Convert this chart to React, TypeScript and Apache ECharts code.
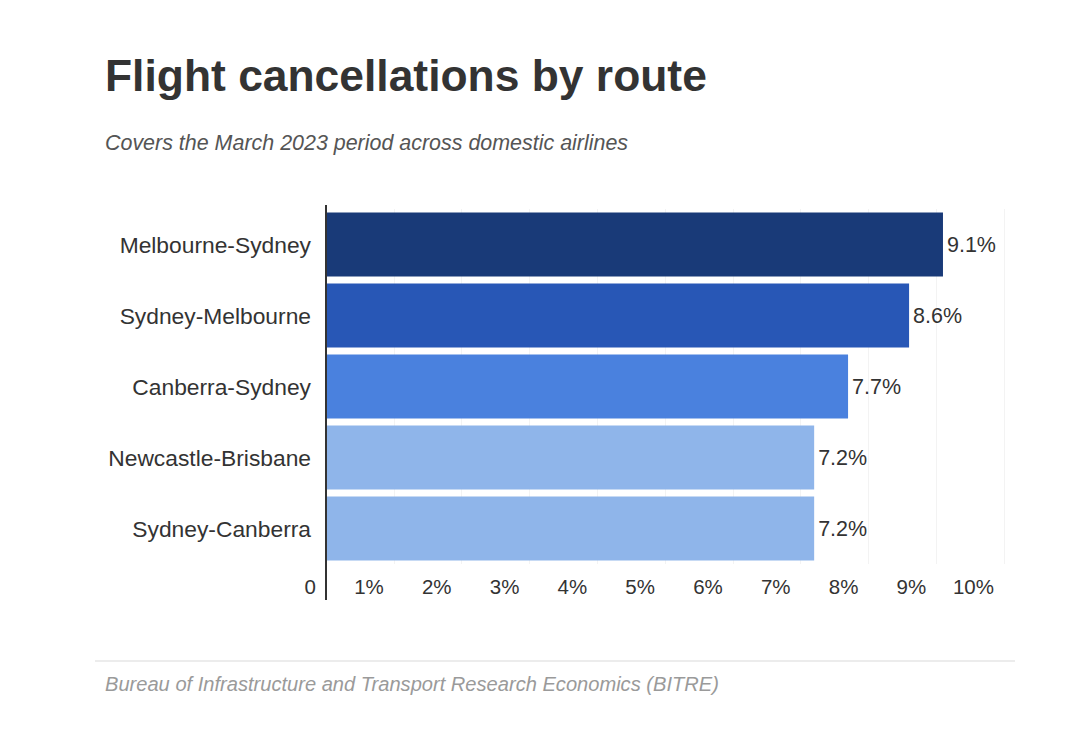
import React, { useEffect, useRef } from "react";
import * as echarts from "echarts";

const routes = [
  "Melbourne-Sydney",
  "Sydney-Melbourne",
  "Canberra-Sydney",
  "Newcastle-Brisbane",
  "Sydney-Canberra",
];
const cancellations = [9.1, 8.6, 7.7, 7.2, 7.2];
const barColors = ["#193a78", "#2857b6", "#4a81de", "#8fb5ea", "#8fb5ea"];
const xTicks = [0, 1, 2, 3, 4, 5, 6, 7, 8, 9, 10];

const TITLE = "Flight cancellations by route";
const SUBTITLE = "Covers the March 2023 period across domestic airlines";
const SOURCE = "Bureau of Infrastructure and Transport Research Economics (BITRE)";

const FONT = "'Liberation Sans', Arial, sans-serif";

export default function App() {
  const ref = useRef<HTMLDivElement>(null);
  useEffect(() => {
    document.body.style.margin = "0";
    const chart = echarts.init(ref.current!, null, { renderer: "svg" });
    chart.setOption({
      animation: false,
      backgroundColor: "#ffffff",
      textStyle: { fontFamily: FONT },
      grid: { left: 326, right: 76, top: 209, height: 355, containLabel: false },
      xAxis: {
        type: "value",
        min: xTicks[0],
        max: xTicks[xTicks.length - 1],
        interval: 1,
        axisLine: { show: false },
        axisTick: { show: false },
        splitLine: { show: true, lineStyle: { color: "#f3f3f3", width: 1 } },
        axisLabel: {
          fontFamily: FONT,
          fontSize: 20.5,
          color: "#333333",
          align: "right",
          padding: [0, 10, 0, 0],
          margin: 12,
          formatter: (v: number) => (v === 0 ? "0" : v + "%"),
        },
      },
      yAxis: {
        type: "category",
        data: routes,
        inverse: true,
        axisLine: { show: false },
        axisTick: { show: false },
        splitLine: { show: false },
        axisLabel: {
          fontFamily: FONT,
          fontSize: 22.8,
          color: "#333333",
          margin: 15,
        },
      },
      series: [
        {
          type: "bar",
          barCategoryGap: "10%",
          data: cancellations.map((v, i) => ({
            value: v,
            itemStyle: { color: barColors[i] },
          })),
          label: {
            show: true,
            position: "right",
            distance: 4,
            fontFamily: FONT,
            fontSize: 21.5,
            color: "#333333",
            formatter: (p: any) => p.value.toFixed(1) + "%",
          },
        },
      ],
      graphic: [
        {
          type: "text",
          left: 105,
          top: 53,
          style: {
            text: TITLE,
            fontFamily: FONT,
            fontSize: 44.4,
            fontWeight: "bold",
            fill: "#333333",
          },
        },
        {
          type: "text",
          left: 105,
          top: 132,
          style: {
            text: SUBTITLE,
            fontFamily: FONT,
            fontSize: 21.45,
            fontStyle: "italic",
            fill: "#555555",
          },
        },
        {
          type: "line",
          shape: { x1: 326, y1: 205, x2: 326, y2: 600 },
          style: { stroke: "#333333", lineWidth: 2 },
          z: 10,
        },
        {
          type: "line",
          shape: { x1: 95, y1: 661, x2: 1015, y2: 661 },
          style: { stroke: "#ececec", lineWidth: 2 },
        },
        {
          type: "text",
          left: 105,
          top: 674,
          style: {
            text: SOURCE,
            fontFamily: FONT,
            fontSize: 20.1,
            fontStyle: "italic",
            fill: "#9a9a9a",
          },
        },
      ],
    });
    return () => chart.dispose();
  }, []);
  return <div ref={ref} style={{ width: 1080, height: 729 }} />;
}
